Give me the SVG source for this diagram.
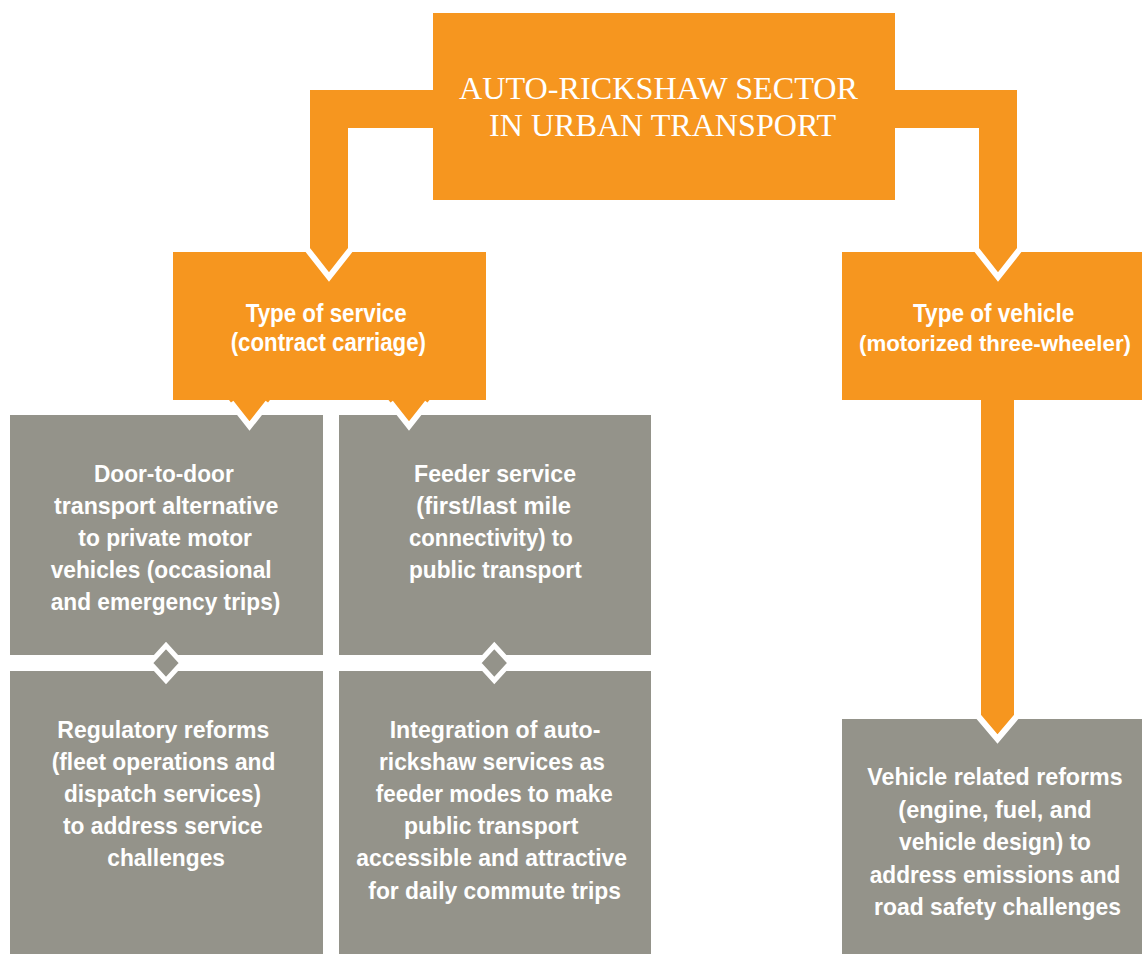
<svg xmlns="http://www.w3.org/2000/svg" width="1142" height="954" viewBox="0 0 1142 954">
<style>
.org{fill:#F6961F}
.gry{fill:#94938A}
.v{fill:none;stroke:#FFFFFF;stroke-width:6;stroke-linejoin:miter;stroke-miterlimit:10}
.dia{fill:#94938A;stroke:#FFFFFF;stroke-width:5;stroke-linejoin:miter}
.ttl{font-family:"Liberation Serif","Times New Roman",serif;font-size:32px;fill:#FFFFFF}
.hd{font-family:"Liberation Sans",Arial,sans-serif;font-weight:bold;font-size:25px;fill:#FFFFFF}
.bd{font-family:"Liberation Sans",Arial,sans-serif;font-weight:bold;font-size:24px;fill:#FFFFFF}
</style>
<rect width="1142" height="954" fill="#FFFFFF"/>

<g id="top">
<rect class="org" x="433" y="13" width="462" height="187"/>
<text class="ttl" x="459" y="99" textLength="399" lengthAdjust="spacingAndGlyphs">AUTO-RICKSHAW SECTOR</text>
<text class="ttl" x="489" y="136" textLength="347" lengthAdjust="spacingAndGlyphs">IN URBAN TRANSPORT</text>
</g>

<g id="service">
<rect class="org" x="173" y="252" width="313" height="148"/>
<text class="hd" x="245.7" y="321.7" textLength="161" lengthAdjust="spacingAndGlyphs">Type of service</text>
<text class="hd" x="230.7" y="351" textLength="195.3" lengthAdjust="spacingAndGlyphs">(contract carriage)</text>
</g>

<g id="vehicle">
<rect class="org" x="842" y="252" width="300" height="148"/>
<text class="hd" x="913" y="321.7" textLength="161.3" lengthAdjust="spacingAndGlyphs">Type of vehicle</text>
<text class="hd" x="995" y="351" text-anchor="middle" style="font-size:22px" textLength="272" lengthAdjust="spacingAndGlyphs">(motorized three-wheeler)</text>
</g>

<g id="door-to-door">
<rect class="gry" x="10" y="415" width="313" height="240"/>
<text class="bd" x="94" y="482" textLength="139.7" lengthAdjust="spacingAndGlyphs">Door-to-door</text>
<text class="bd" x="54" y="514" textLength="224.3" lengthAdjust="spacingAndGlyphs">transport alternative</text>
<text class="bd" x="78.3" y="546" textLength="173.7" lengthAdjust="spacingAndGlyphs">to private motor</text>
<text class="bd" x="50.7" y="578" textLength="221" lengthAdjust="spacingAndGlyphs">vehicles (occasional</text>
<text class="bd" x="50.7" y="610" textLength="229.7" lengthAdjust="spacingAndGlyphs">and emergency trips)</text>
</g>

<g id="feeder">
<rect class="gry" x="339" y="415" width="312" height="240"/>
<text class="bd" x="414" y="482" textLength="162" lengthAdjust="spacingAndGlyphs">Feeder service</text>
<text class="bd" x="416.3" y="514" textLength="154.7" lengthAdjust="spacingAndGlyphs">(first/last mile</text>
<text class="bd" x="409" y="546" textLength="163.7" lengthAdjust="spacingAndGlyphs">connectivity) to</text>
<text class="bd" x="409" y="578" textLength="172.7" lengthAdjust="spacingAndGlyphs">public transport</text>
</g>

<g id="regulatory">
<rect class="gry" x="10" y="671" width="313" height="283"/>
<text class="bd" x="57.3" y="737.5" textLength="212" lengthAdjust="spacingAndGlyphs">Regulatory reforms</text>
<text class="bd" x="51.7" y="769.5" textLength="223.7" lengthAdjust="spacingAndGlyphs">(fleet operations and</text>
<text class="bd" x="64" y="801.5" textLength="197" lengthAdjust="spacingAndGlyphs">dispatch services)</text>
<text class="bd" x="63" y="833.5" textLength="199.7" lengthAdjust="spacingAndGlyphs">to address service</text>
<text class="bd" x="107.3" y="865.5" textLength="117.7" lengthAdjust="spacingAndGlyphs">challenges</text>
</g>

<g id="integration">
<rect class="gry" x="339" y="671" width="312" height="283"/>
<text class="bd" x="389.7" y="737.5" textLength="210.7" lengthAdjust="spacingAndGlyphs">Integration of auto-</text>
<text class="bd" x="379" y="769.7" textLength="226" lengthAdjust="spacingAndGlyphs">rickshaw services as</text>
<text class="bd" x="375.7" y="801.9" textLength="237" lengthAdjust="spacingAndGlyphs">feeder modes to make</text>
<text class="bd" x="404" y="834.1" textLength="174.3" lengthAdjust="spacingAndGlyphs">public transport</text>
<text class="bd" x="356.3" y="866.3" textLength="270.7" lengthAdjust="spacingAndGlyphs">accessible and attractive</text>
<text class="bd" x="368.3" y="898.5" textLength="252.7" lengthAdjust="spacingAndGlyphs">for daily commute trips</text>
</g>

<g id="vehicle-reforms">
<rect class="gry" x="842" y="719" width="300" height="235"/>
<text class="bd" x="867.3" y="785" textLength="255.3" lengthAdjust="spacingAndGlyphs">Vehicle related reforms</text>
<text class="bd" x="898.3" y="817.5" textLength="193.3" lengthAdjust="spacingAndGlyphs">(engine, fuel, and</text>
<text class="bd" x="899" y="850" textLength="192" lengthAdjust="spacingAndGlyphs">vehicle design) to</text>
<text class="bd" x="869.7" y="882.5" textLength="250.7" lengthAdjust="spacingAndGlyphs">address emissions and</text>
<text class="bd" x="874" y="915" textLength="247" lengthAdjust="spacingAndGlyphs">road safety challenges</text>
</g>

<g id="connectors">
<path class="org" d="M433,90 H310 V252.8 L329,277 L348,252.8 V128 H433 Z"/>
<polyline class="v" points="307,249 329,277 351,249"/>
<path class="org" d="M895,90 H1017 V252.8 L998,277 L979,252.8 V128 H895 Z"/>
<polyline class="v" points="1020,249 998,277 976,249"/>
<path class="org" d="M229,400 L249.5,426 L270,400 Z"/>
<polyline class="v" points="231,402.5 249.5,426 268,402.5"/>
<path class="org" d="M388.5,400 L409,426 L429.5,400 Z"/>
<polyline class="v" points="390.5,402.5 409,426 427.5,402.5"/>
<path class="org" d="M981,400 V719.5 L997.5,739 L1014,719.5 V400 Z"/>
<polyline class="v" points="978,716 997.5,739 1017,716"/>
<polygon class="dia" points="166,645.5 182,663 166,680.5 150,663"/>
<polygon class="dia" points="494.3,645.5 510.3,663 494.3,680.5 478.3,663"/>
</g>
</svg>
